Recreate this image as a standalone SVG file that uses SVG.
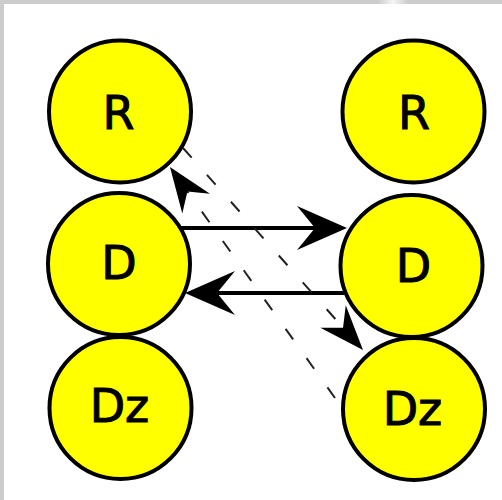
<svg xmlns="http://www.w3.org/2000/svg" width="502" height="500" viewBox="0 0 502 500">
  <defs>
    <style>
      .node circle { fill: #ffff00; stroke: #000; stroke-width: 4; }
      .node text { font-family: "DejaVu Sans", "Liberation Sans", sans-serif; font-size: 46px; fill: #000; stroke: #000; stroke-width: 1; text-anchor: middle; }
      .solid { stroke: #000; stroke-width: 4; fill: none; }
      .dashed { stroke: #222; stroke-width: 2; fill: none; stroke-dasharray: 13 23; }
    </style>
    <linearGradient id="glint" x1="0" x2="1" y1="0" y2="0">
      <stop offset="0" stop-color="#ffffff" stop-opacity="0"/>
      <stop offset="0.5" stop-color="#ffffff" stop-opacity="0.8"/>
      <stop offset="1" stop-color="#ffffff" stop-opacity="0"/>
    </linearGradient>
    <!-- barbed head, tip sits 20px past the line end -->
    <marker id="head" markerUnits="userSpaceOnUse" viewBox="-52 -24 54 48" refX="-20" refY="0" markerWidth="54" markerHeight="48" orient="auto">
      <path d="M0,0 L-50,-22 L-32,0 L-50,22 Z" fill="#000"/>
    </marker>
    <marker id="headSmall" markerUnits="userSpaceOnUse" viewBox="-48 -20 50 40" refX="-20" refY="0" markerWidth="50" markerHeight="40" orient="auto">
      <path d="M0,0 L-45,-17 L-30,0 L-45,17 Z" fill="#000"/>
    </marker>
  </defs>

  <!-- frame -->
  <rect x="0" y="0" width="502" height="500" fill="#ffffff"/>
  <rect x="0" y="0" width="502" height="4" fill="#cccccc"/>
  <rect x="0" y="0" width="4" height="500" fill="#cccccc"/>
  <rect x="378" y="0" width="30" height="4" fill="url(#glint)"/>

  <!-- connectors -->
  <g id="edges">
    <line class="solid" x1="181" y1="228" x2="327" y2="228" marker-end="url(#head)"/>
    <line class="solid" x1="344" y1="293" x2="205" y2="293" marker-end="url(#head)"/>
    <line class="dashed" x1="335" y1="398" x2="181.6" y2="183.3" marker-end="url(#headSmall)"/>
    <line class="dashed" x1="183" y1="148" x2="349.7" y2="335.1" marker-end="url(#headSmall)"/>
  </g>

  <!-- left column -->
  <g id="R1" class="node">
    <circle cx="120" cy="111.5" r="71"/>
    <text x="118.5" y="129">R</text>
  </g>
  <g id="D1" class="node">
    <circle cx="119" cy="264" r="71"/>
    <text x="119" y="279">D</text>
  </g>
  <g id="Dz1" class="node">
    <circle cx="120.5" cy="408" r="71"/>
    <text x="119.5" y="422">Dz</text>
  </g>

  <!-- right column -->
  <g id="R2" class="node">
    <circle cx="413.5" cy="111.5" r="71"/>
    <text x="414" y="129">R</text>
  </g>
  <g id="D2" class="node">
    <circle cx="411.5" cy="266" r="71"/>
    <text x="413.5" y="282">D</text>
  </g>
  <g id="Dz2" class="node">
    <circle cx="414" cy="409" r="71"/>
    <text x="412.5" y="425">Dz</text>
  </g>
</svg>
